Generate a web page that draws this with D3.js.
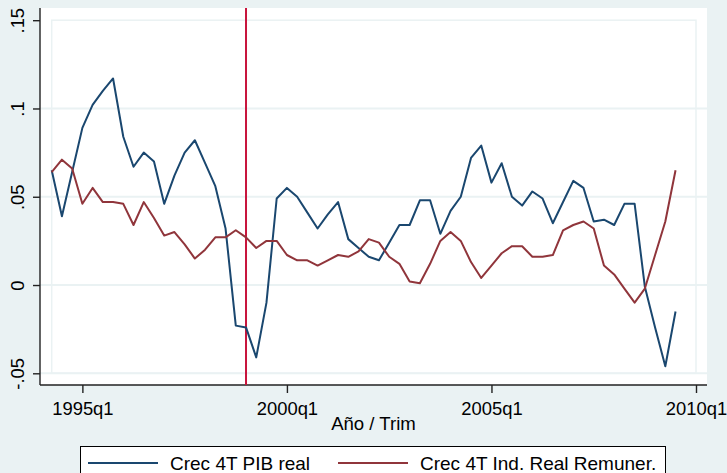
<!DOCTYPE html>
<html lang="es">
  <head>
    <meta charset="utf-8" />
    <title>Crec 4T PIB real vs Ind. Real Remuner.</title>
    <script src="https://d3js.org/d3.v7.min.js"></script>
    <style>
      body { margin: 0; background: #eaf2f3; }
      svg { display: block; font-family: "Liberation Sans", Arial, sans-serif; }
      .grid line { stroke: #eaf2f3; stroke-width: 2; }
    </style>
  </head>
  <body>
    <svg width="727" height="473"></svg>
  </body>
  <script>
    // Quarters run from 1994q2 to 2009q3 (Stata %tq numbers)
    const firstQuarter = 137; // 1994q2
    const lastAxisQuarter = 200; // 2010q1
    const breakQuarter = 156; // 1999q1

    // Crec 4T PIB real
    const pibReal = [
      0.065, 0.039, 0.064, 0.089, 0.102, 0.110, 0.117, 0.084, 0.067, 0.075,
      0.070, 0.046, 0.062, 0.075, 0.082, 0.069, 0.056, 0.032, -0.023, -0.024,
      -0.041, -0.010, 0.049, 0.055, 0.050, 0.041, 0.032, 0.040, 0.047, 0.026,
      0.021, 0.016, 0.014, 0.024, 0.034, 0.034, 0.048, 0.048, 0.029, 0.042,
      0.050, 0.072, 0.079, 0.058, 0.069, 0.050, 0.045, 0.053, 0.049, 0.035,
      0.047, 0.059, 0.055, 0.036, 0.037, 0.034, 0.046, 0.046, -0.001, -0.024,
      -0.046, -0.015
    ];

    // Crec 4T Ind. Real Remuner.
    const remReal = [
      0.064, 0.071, 0.066, 0.046, 0.055, 0.047, 0.047, 0.046, 0.034, 0.047,
      0.038, 0.028, 0.030, 0.023, 0.015, 0.020, 0.027, 0.027, 0.031, 0.027,
      0.021, 0.025, 0.025, 0.017, 0.014, 0.014, 0.011, 0.014, 0.017, 0.016,
      0.019, 0.026, 0.024, 0.016, 0.012, 0.002, 0.001, 0.012, 0.025, 0.030,
      0.025, 0.013, 0.004, 0.011, 0.018, 0.022, 0.022, 0.016, 0.016, 0.017,
      0.031, 0.034, 0.036, 0.032, 0.011, 0.006, -0.002, -0.010, -0.002, 0.017,
      0.036, 0.065
    ];

    const yTicks = [-0.05, 0, 0.05, 0.1, 0.15];
    const yTickLabels = ['-.05', '0', '.05', '.1', '.15'];
    const xTicks = [140, 160, 180, 200];
    const xTickLabels = ['1995q1', '2000q1', '2005q1', '2010q1'];
    const seriesNames = ['Crec 4T PIB real', 'Crec 4T Ind. Real Remuner.'];
    const seriesColors = ['#1a476f', '#90353b'];

    const svg = d3.select('svg');

    // outer white plot region
    const region = { left: 40, right: 707, top: 8, bottom: 385 };
    svg.append('rect')
      .attr('x', region.left).attr('y', region.top)
      .attr('width', region.right - region.left)
      .attr('height', region.bottom - region.top)
      .attr('fill', '#fff');

    const x = d3.scaleLinear()
      .domain([firstQuarter, lastAxisQuarter])
      .range([51.7, 696]);
    const y = d3.scaleLinear()
      .domain([-0.05, 0.15])
      .range([373.3, 20.2]);

    // horizontal grid lines
    svg.append('g')
      .attr('class', 'grid')
      .selectAll('line')
      .data(yTicks.slice(0, 4))
      .join('line')
      .attr('x1', region.left).attr('x2', region.right)
      .attr('y1', (d) => y(d)).attr('y2', (d) => y(d));

    // inner plot area outline
    svg.append('rect')
      .attr('x', x(firstQuarter)).attr('y', y(0.15))
      .attr('width', x(lastAxisQuarter) - x(firstQuarter))
      .attr('height', y(-0.05) - y(0.15))
      .attr('fill', 'none')
      .attr('stroke', '#eaf2f3')
      .attr('stroke-width', 1.5);

    // Y axis
    const yAxis = svg.append('g')
      .attr('transform', `translate(${region.left},0)`)
      .call(d3.axisLeft(y)
        .tickValues(yTicks)
        .tickSize(7)
        .tickSizeOuter(0)
        .tickFormat((d, i) => yTickLabels[i]));
    yAxis.select('.domain').attr('d', `M0,${region.top}V${region.bottom}`);
    yAxis.selectAll('text')
      .attr('x', 0).attr('y', -16.5).attr('dy', 0)
      .attr('transform', 'rotate(-90)')
      .attr('text-anchor', 'middle');

    // X axis
    const xAxis = svg.append('g')
      .attr('transform', `translate(0,${region.bottom})`)
      .call(d3.axisBottom(x)
        .tickValues(xTicks)
        .tickSize(8)
        .tickSizeOuter(0)
        .tickFormat((d, i) => xTickLabels[i]));
    xAxis.select('.domain').attr('d', `M${region.left},0H${region.right}`);
    xAxis.selectAll('text').attr('y', 29.5).attr('dy', 0);

    svg.selectAll('.tick text')
      .attr('fill', '#000')
      .style('font-size', '18.4px');
    svg.selectAll('.domain, .tick line')
      .attr('stroke', '#222')
      .attr('stroke-width', 1.4);

    svg.append('text')
      .attr('x', (region.left + region.right) / 2)
      .attr('y', 430)
      .attr('text-anchor', 'middle')
      .style('font-size', '18.6px')
      .text('Año / Trim');

    // vertical line at 1999q1
    svg.append('line')
      .attr('x1', x(breakQuarter)).attr('x2', x(breakQuarter))
      .attr('y1', region.top).attr('y2', region.bottom)
      .attr('stroke', '#c8143c')
      .attr('stroke-width', 2);

    // series lines
    const line = d3.line()
      .x((d, i) => x(firstQuarter + i))
      .y((d) => y(d));
    [pibReal, remReal].forEach((s, k) => {
      svg.append('path')
        .datum(s)
        .attr('d', line)
        .attr('fill', 'none')
        .attr('stroke', seriesColors[k])
        .attr('stroke-width', 2)
        .attr('stroke-linejoin', 'round');
    });

    // legend
    const legend = svg.append('g');
    legend.append('rect')
      .attr('x', 80.5).attr('y', 446.5)
      .attr('width', 585).attr('height', 40)
      .attr('fill', '#fff')
      .attr('stroke', '#000')
      .attr('stroke-width', 1);
    const keyX = [88, 338];
    seriesNames.forEach((name, k) => {
      legend.append('line')
        .attr('x1', keyX[k]).attr('x2', keyX[k] + 70)
        .attr('y1', 463).attr('y2', 463)
        .attr('stroke', seriesColors[k])
        .attr('stroke-width', 2);
      legend.append('text')
        .attr('x', keyX[k] + 82)
        .attr('y', 470)
        .style('font-size', '19px')
        .text(name);
    });
  </script>
</html>
